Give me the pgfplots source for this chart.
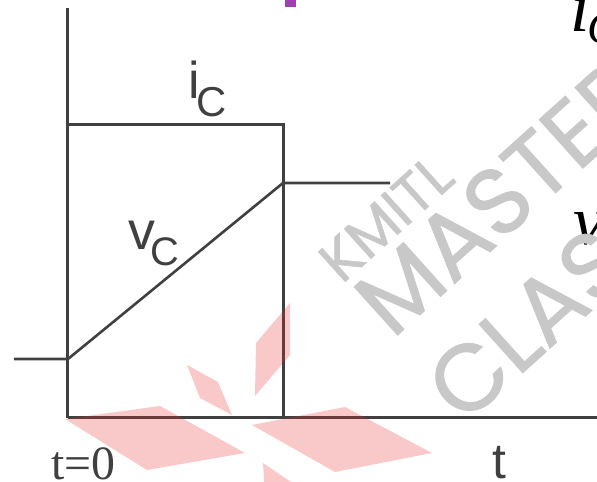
\documentclass[border=0pt]{standalone}
\usepackage{fontspec}
\setmainfont{Liberation Sans}
\newfontfamily\timesfont{Liberation Serif}
\newfontfamily\wmfont[FakeBold=1]{Poppins}
\usepackage{pgfplots}
\pgfplotsset{compat=1.18}
\definecolor{ink}{RGB}{64,64,64}
\definecolor{wmgray}{RGB}{200,200,200}
\definecolor{wmred}{RGB}{232,40,40}
\definecolor{accent}{RGB}{160,64,176}

\begin{document}
\begin{tikzpicture}
\begin{axis}[
  scale only axis, width=529bp, height=410bp,
  xmin=0, xmax=529, ymin=0, ymax=410,
  axis lines=left,
  axis line style={-, line width=3bp, draw=ink},
  xtick=\empty, ytick=\empty,
  clip=false,
]
% capacitor current: constant during charging, zero afterwards
\addplot[ink, line width=3bp, line join=miter] coordinates {(0,293) (215,293) (215,0)};
% capacitor voltage: linear ramp, then held
\addplot[ink, line width=2.6bp] coordinates {(-54,59) (0,59) (215,235) (322,235)};

% labels
\node[anchor=base west, text=ink, inner sep=0] at (axis cs:120,319)
  {\fontsize{52}{52}\selectfont i\kern-3bp\raisebox{-18bp}{\fontsize{42}{42}\selectfont C}};
\node[anchor=base west, text=ink, inner sep=0] at (axis cs:60,168)
  {\fontsize{54}{54}\selectfont v\kern-5bp\raisebox{-16bp}{\fontsize{40}{40}\selectfont C}};
\node[anchor=base west, text=ink, inner sep=0] at (axis cs:-17,-62)
  {\timesfont\fontsize{48}{48}\selectfont t=0};
\node[anchor=base west, text=ink, inner sep=0] at (axis cs:424,-61)
  {\fontsize{50}{50}\selectfont t};

% equation fragments at the right edge
\node[anchor=base west, inner sep=0] at (axis cs:502,386)
  {\timesfont\itshape\fontsize{70}{70}\selectfont i\kern-2bp\raisebox{-12bp}{\fontsize{46}{46}\selectfont C}};
\node[anchor=base west, inner sep=0] at (axis cs:505,173)
  {\timesfont\itshape\fontsize{70}{70}\selectfont v};

% title bullet
\addplot[fill=accent, draw=none] coordinates {(217,411) (228,411) (228,430) (217,430)} -- cycle;

% watermark text
\node[rotate=42, text=wmgray, font={\wmfont\fontsize{58}{58}\selectfont}] at (axis cs:318,200) {KMITL};
\node[rotate=42, text=wmgray, font={\wmfont\fontsize{94}{94}\selectfont}] at (axis cs:434,221) {MASTER};
\node[rotate=42, text=wmgray, font={\wmfont\fontsize{94}{94}\selectfont}] at (axis cs:480,112) {CLASS};

% watermark logo
\addplot[fill=wmred, fill opacity=0.25, draw=none] coordinates {(-3,-1) (92,12) (177,-35) (79,-52)} -- cycle;
\addplot[fill=wmred, fill opacity=0.25, draw=none] coordinates {(119,53) (150,36) (164,3) (132,20)} -- cycle;
\addplot[fill=wmred, fill opacity=0.25, draw=none] coordinates {(222,115) (222,63) (187,22) (188,75)} -- cycle;
\addplot[fill=wmred, fill opacity=0.25, draw=none] coordinates {(184,-7) (277,11) (364,-35) (267,-54)} -- cycle;
\addplot[fill=wmred, fill opacity=0.25, draw=none] coordinates {(195,-45) (242,-77) (197,-77)} -- cycle;

\coordinate (bbA) at (axis cs:-68,-64);
\coordinate (bbB) at (axis cs:529,418);
\end{axis}
\pgfresetboundingbox
\path[use as bounding box] (bbA) rectangle (bbB);
\end{tikzpicture}
\end{document}
